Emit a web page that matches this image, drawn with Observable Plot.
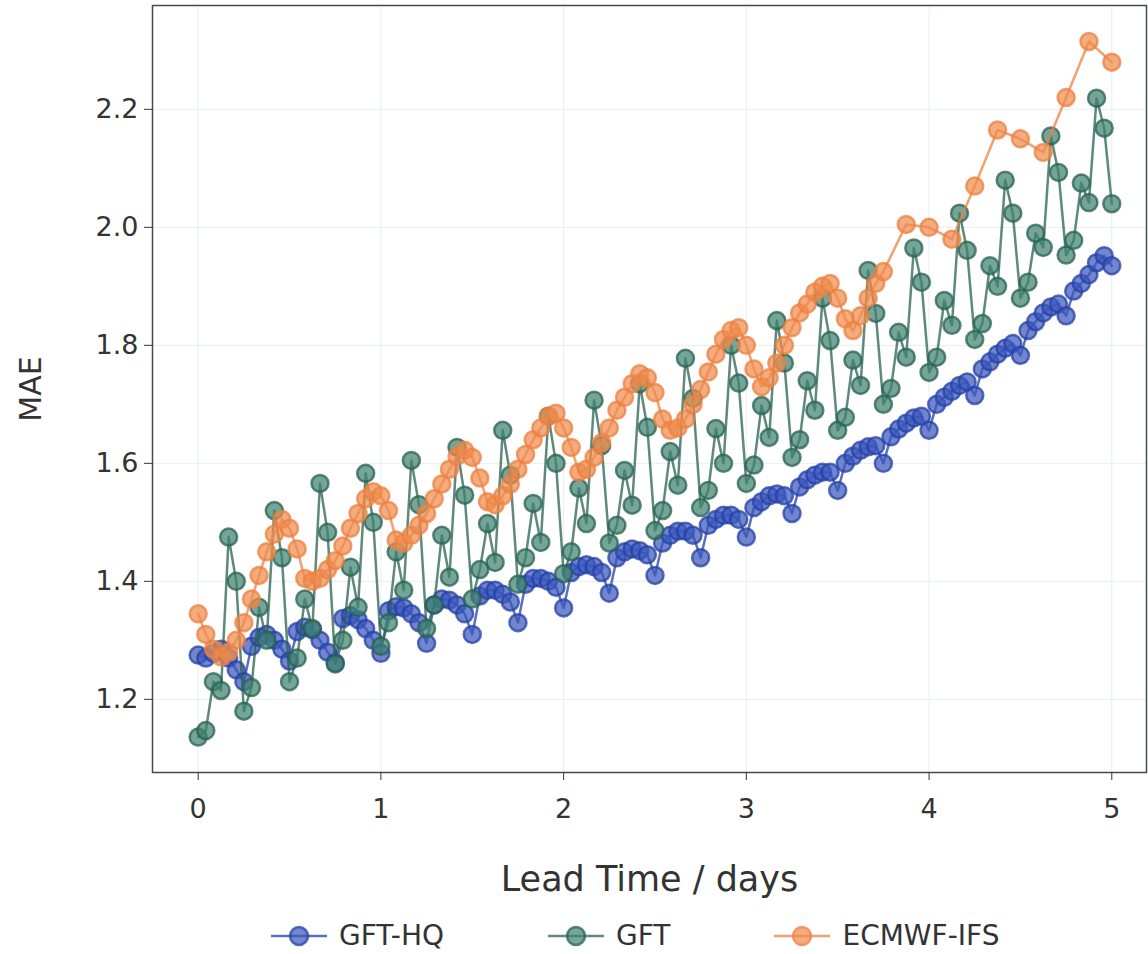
<!DOCTYPE html>
<html><head><meta charset="utf-8">
<script src="https://cdn.jsdelivr.net/npm/d3@7"></script>
<script src="https://cdn.jsdelivr.net/npm/@observablehq/plot@0.6"></script>
<style>
body{margin:0;background:#fff;font-family:"DejaVu Sans",sans-serif;}
#chart{position:absolute;left:0;top:0;}
#legend{position:absolute;left:271px;top:919px;display:flex;align-items:center;font-size:28px;color:#333;}
.item{display:flex;align-items:center;margin-right:104px;}
.item:last-child{margin-right:0;}
.item svg{margin-right:12px;}
g[aria-label="x-axis label"] text{font-size:35px;}
g[aria-label="y-axis label"] text{font-size:30px;}
</style></head><body><div id="chart"></div><div id="legend"></div>
<script>
// Lead times (hours)
const hoursHourly = d3.range(0, 121);
const ecmwfHours = d3.range(0, 91).concat([93, 96, 99, 102, 105, 108, 111, 114, 117, 120]);

const gftHQ = [
1.275,1.27,1.278,1.285,1.27,1.25,
1.23,1.29,1.305,1.31,1.30,1.285,
1.265,1.315,1.322,1.318,1.30,1.28,
1.262,1.337,1.342,1.335,1.32,1.30,
1.278,1.35,1.357,1.355,1.345,1.33,
1.295,1.36,1.37,1.368,1.36,1.345,
1.31,1.375,1.385,1.385,1.378,1.365,
1.33,1.395,1.405,1.405,1.40,1.39,
1.355,1.415,1.425,1.428,1.425,1.415,
1.38,1.44,1.45,1.455,1.452,1.445,
1.41,1.465,1.478,1.485,1.485,1.478,
1.44,1.495,1.505,1.512,1.512,1.505,
1.475,1.525,1.535,1.545,1.548,1.545,
1.515,1.56,1.572,1.58,1.585,1.585,
1.554,1.60,1.612,1.622,1.628,1.63,
1.60,1.645,1.658,1.668,1.677,1.68,
1.656,1.70,1.712,1.722,1.732,1.738,
1.715,1.76,1.772,1.785,1.795,1.803,
1.783,1.825,1.84,1.855,1.865,1.87,
1.85,1.892,1.905,1.92,1.94,1.952,
1.935];

const gft = [
1.136,1.147,1.23,1.215,1.475,1.40,
1.18,1.22,1.356,1.30,1.52,1.44,
1.23,1.27,1.37,1.32,1.566,1.483,
1.26,1.30,1.424,1.356,1.583,1.50,
1.29,1.33,1.45,1.385,1.605,1.53,
1.32,1.36,1.478,1.407,1.627,1.546,
1.37,1.42,1.498,1.432,1.656,1.58,
1.395,1.44,1.532,1.466,1.68,1.60,
1.413,1.45,1.558,1.498,1.707,1.63,
1.465,1.495,1.588,1.529,1.735,1.661,
1.486,1.52,1.62,1.563,1.778,1.71,
1.525,1.554,1.659,1.60,1.80,1.736,
1.566,1.597,1.698,1.644,1.842,1.77,
1.61,1.64,1.74,1.69,1.88,1.808,
1.656,1.678,1.775,1.732,1.927,1.854,
1.70,1.727,1.822,1.78,1.965,1.907,
1.754,1.78,1.876,1.834,2.024,1.961,
1.81,1.837,1.935,1.90,2.08,2.024,
1.88,1.907,1.99,1.966,2.155,2.093,
1.953,1.978,2.075,2.042,2.219,2.168,
2.04];

const ecmwf = [
1.345,1.31,1.285,1.272,1.28,1.30,1.33,1.37,1.41,1.45,1.48,1.505,
1.49,1.455,1.405,1.40,1.405,1.42,1.435,1.46,1.49,1.515,1.54,1.552,
1.545,1.52,1.47,1.465,1.478,1.495,1.515,1.54,1.565,1.59,1.612,1.622,
1.61,1.575,1.535,1.53,1.545,1.565,1.59,1.615,1.64,1.66,1.68,1.685,
1.66,1.627,1.585,1.59,1.61,1.635,1.66,1.69,1.712,1.735,1.752,1.745,
1.72,1.675,1.656,1.66,1.675,1.70,1.725,1.755,1.785,1.81,1.825,1.83,
1.80,1.76,1.73,1.745,1.77,1.80,1.83,1.855,1.87,1.89,1.90,1.905,
1.88,1.845,1.825,1.85,1.88,1.905,1.925,
2.005,2.0,1.98,2.07,2.165,2.15,2.127,2.22,2.315,2.28];

const xTicks = [0, 1, 2, 3, 4, 5];
const yTicks = [1.2, 1.4, 1.6, 1.8, 2.0, 2.2];

const seriesNames = ["GFT-HQ", "GFT", "ECMWF-IFS"];
const strokeColors = ["#2440a6", "#28624f", "#ec8040"];
const fillColors = ["#3a58bd", "#3f8270", "#f08a4c"];

const toRows = (hours, vals, name) => hours.map((h, i) => ({day: h / 24, v: vals[i], name}));
const series = [
  toRows(hoursHourly, gftHQ, seriesNames[0]),
  toRows(hoursHourly, gft, seriesNames[1]),
  toRows(ecmwfHours, ecmwf, seriesNames[2])
];

const marks = [
  Plot.gridX(xTicks, {stroke: "#e9eeee", strokeOpacity: 1}),
  Plot.gridY(yTicks, {stroke: "#e9eeee", strokeOpacity: 1})
];
series.forEach((rows, i) => {
  marks.push(Plot.line(rows, {x: "day", y: "v", stroke: strokeColors[i], strokeWidth: 2.5, strokeOpacity: 0.75}));
  marks.push(Plot.dot(rows, {x: "day", y: "v", r: 8.5, fill: fillColors[i], fillOpacity: 0.72, stroke: strokeColors[i], strokeWidth: 2.5, strokeOpacity: 0.75}));
});
marks.push(Plot.frame({stroke: "#3e4c4a", strokeWidth: 1.5}));
marks.push(Plot.axisX(xTicks, {tickSize: 8, tickPadding: 18, fontSize: 27, tickFormat: d3.format("d"), label: "Lead Time / days", labelArrow: "none", labelAnchor: "center", labelOffset: 118, stroke: "#333"}));
marks.push(Plot.axisY(yTicks, {tickSize: 8, tickPadding: 6, fontSize: 27, tickFormat: d3.format(".1f"), label: "MAE", labelArrow: "none", labelAnchor: "center", labelOffset: 133, stroke: "#333"}));

const chart = Plot.plot({
  width: 1148,
  height: 900,
  marginLeft: 152,
  marginRight: 2,
  marginTop: 5,
  marginBottom: 128,
  style: {fontFamily: "DejaVu Sans, sans-serif", fontSize: "27px", color: "#333", background: "#fff"},
  x: {domain: [-0.25, 5.19]},
  y: {domain: [1.076, 2.376]},
  marks
});
// strip any arrows from axis labels
chart.querySelectorAll("text").forEach(t => {
  if (/[→↑]/.test(t.textContent)) t.textContent = t.textContent.replace(/\s*[→↑]\s*/g, "").trim();
});
document.getElementById("chart").appendChild(chart);

// Legend
const legend = document.getElementById("legend");
seriesNames.forEach((name, i) => {
  const item = document.createElement("div");
  item.className = "item";
  item.innerHTML = `<svg width="56" height="26"><line x1="0" y1="13" x2="56" y2="13" stroke="${strokeColors[i]}" stroke-width="2.5" stroke-opacity="0.75"/><circle cx="28" cy="13" r="9" fill="${fillColors[i]}" fill-opacity="0.72" stroke="${strokeColors[i]}" stroke-width="2.5" stroke-opacity="0.75"/></svg><span>${name}</span>`;
  legend.appendChild(item);
});
</script></body></html>
